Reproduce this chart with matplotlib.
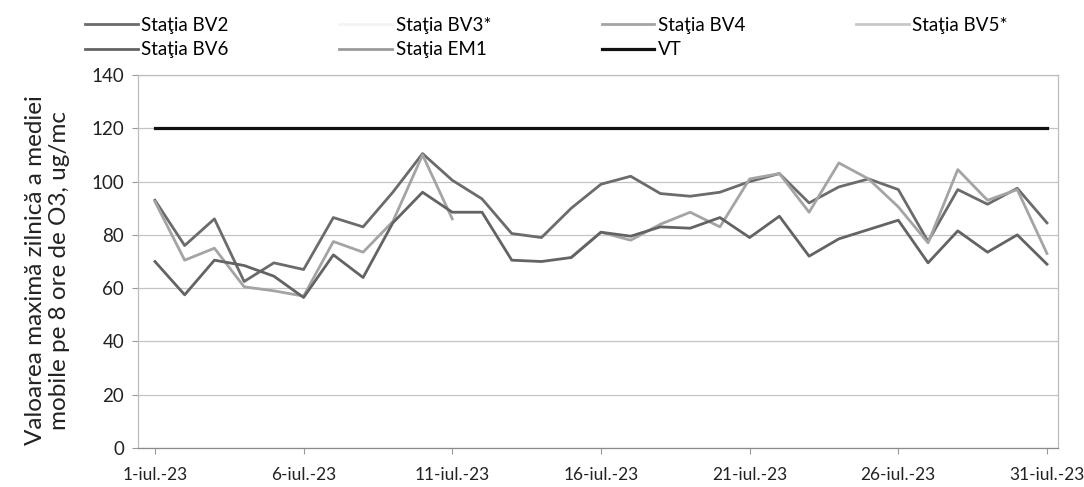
import matplotlib
matplotlib.use('Agg')
import matplotlib.pyplot as plt
import numpy as np

plt.rcParams['font.family'] = ['Lato', 'DejaVu Sans']

# zilele lunii iulie 2023
days = list(range(1, 32))
tick_days = [1, 6, 11, 16, 21, 26, 31]
tick_labels = ['1-iul.-23', '6-iul.-23', '11-iul.-23', '16-iul.-23',
               '21-iul.-23', '26-iul.-23', '31-iul.-23']

bv2 = [93, 76, 86, 62.5, 69.5, 67, 86.5, 83, 96, 110.5, 100.5, 93.5, 80.5, 79, 90, 99,
       102, 95.5, 94.5, 96, 100, 103, 92, 98, 101, 97, 77.5, 97, 91.5, 97.5, 84.5]
bv4 = [92.5, 70.5, 75, 60.5, 59, 57, 77.5, 73.5, 85, 110, 86, None, None, None, 71.5, 81,
       78, 84, 88.5, 83, 101, 103, 88.5, 107, 101, 90.5, 77, 104.5, 93, 97, 73]
bv6 = [70, 57.5, 70.5, 68.5, 64.5, 56.5, 72.5, 64, 84.5, 96, 88.5, 88.5, 70.5, 70, 71.5, 81,
       79.5, 83, 82.5, 86.5, 79, 87, 72, 78.5, 82, 85.5, 69.5, 81.5, 73.5, 80, 69]
vt = [120] * 31

fig = plt.figure(figsize=(10.84, 4.87), dpi=100)
ax = fig.add_axes([0.1273, 0.080, 0.976 - 0.1273, 0.846 - 0.080])

to_arr = lambda v: np.array([np.nan if x is None else x for x in v], dtype=float)

h_bv2, = ax.plot(days, to_arr(bv2), color='#6b6b6b', lw=2.0, label='Staţia BV2')
h_bv4, = ax.plot(days, to_arr(bv4), color='#a4a4a4', lw=2.0, label='Staţia BV4')
h_bv6, = ax.plot(days, to_arr(bv6), color='#636363', lw=2.0, label='Staţia BV6')
h_vt, = ax.plot(days, vt, color='#111111', lw=2.3, label='VT')
# statii fara date vizibile in grafic
h_bv3, = ax.plot([], [], color='#f4f4f4', lw=2.0, label='Staţia BV3*')
h_bv5, = ax.plot([], [], color='#c8c8c8', lw=2.0, label='Staţia BV5*')
h_em1, = ax.plot([], [], color='#9a9a9a', lw=2.0, label='Staţia EM1')

ax.set_xlim(0.43, 31.37)
ax.set_ylim(0, 140)
ax.set_yticks(range(0, 141, 20))
ax.set_xticks(tick_days)
ax.set_xticklabels(tick_labels)
ax.tick_params(axis='both', labelsize=13.5, colors='#9a9a9a', labelcolor='#222222',
               length=4, width=0.8)
ax.tick_params(axis='y', pad=6)
ax.tick_params(axis='x', pad=10, labelsize=12.5)
ax.grid(axis='y', color='#c4c4c4', lw=0.9)
ax.set_axisbelow(True)
for s in ax.spines.values():
    s.set_color('#bdbdbd')
    s.set_linewidth(0.9)
ax.spines['bottom'].set_color('#8a8a8a')

fig.text(0.044, 0.445, 'Valoarea maximă zilnică a mediei\nmobile pe 8 ore de O3, ug/mc',
         rotation=90, ha='center', va='center', fontsize=17.5,
         color='#222222', linespacing=1.2)

handles = [h_bv2, h_bv6, h_bv3, h_em1, h_bv4, h_vt, h_bv5]
fig.legend(handles=handles, labels=[h.get_label() for h in handles], ncol=4,
           loc='upper left', bbox_to_anchor=(0.063, 1.0), frameon=False,
           fontsize=13.5, handlelength=2.8, handletextpad=0.2, columnspacing=5.9,
           labelspacing=0.4)

fig.savefig('out.png', dpi=100, facecolor='white')
